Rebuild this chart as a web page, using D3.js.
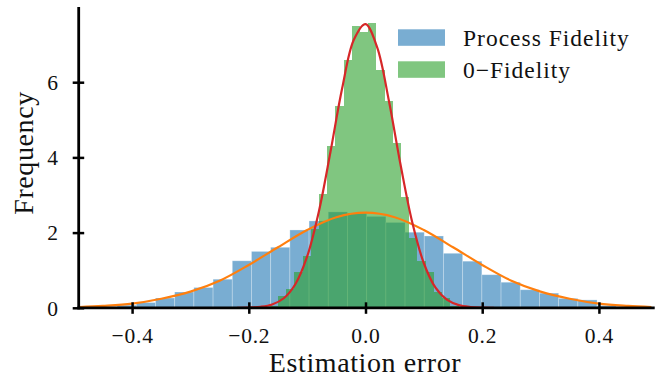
<!doctype html>
<html>
<head>
<meta charset="utf-8">
<title>Estimation error histogram</title>
<script src="https://cdn.jsdelivr.net/npm/d3@7/dist/d3.min.js"></script>
<style>
body { margin: 0; background: #fff; }
svg { display: block; font-family: 'Liberation Serif', serif; }
.tick text { font-family: 'Liberation Serif', serif; font-size: 21.5px; fill: #111; letter-spacing: 0.8px; }
.axis-title { font-size: 28px; fill: #111; letter-spacing: 0.6px; }
.legend text { font-size: 23.5px; fill: #111; letter-spacing: 1px; }
</style>
</head>
<body>
<svg id="chart" width="658" height="379"></svg>
<script>
// ticks
var xTicks = [-0.4, -0.2, 0, 0.2, 0.4];
var xTickLabels = ['\u22120.4', '\u22120.2', '0.0', '0.2', '0.4'];
var yTicks = [0, 2, 4, 6];
var seriesNames = ['Process Fidelity', '0\u2212Fidelity'];

// histogram of process fidelity error (density, 30 bins)
var processStart = -0.4915, processBin = 0.0329;
var processDensity = [0.02, 0.03, 0.07, 0.14, 0.26, 0.42, 0.54, 0.76, 1.25, 1.50,
                      1.61, 2.07, 2.31, 2.55, 2.52, 2.43, 2.27, 2.01, 1.91, 1.45,
                      1.24, 0.88, 0.68, 0.48, 0.39, 0.25, 0.21, 0.06, 0.03, 0.02];

// histogram of 0-fidelity error (density, 30 bins)
var zeroStart = -0.1923, zeroBin = 0.01407;
var zeroDensity = [0.01, 0.01, 0.04, 0.31, 0.49, 0.95, 1.38, 2.10, 3.02, 4.30,
                   5.37, 6.58, 7.50, 7.33, 7.57, 6.33, 5.49, 4.37, 2.94, 1.86,
                   1.24, 0.95, 0.42, 0.27, 0.05, 0.02, 0.01, 0, 0, 0.01];

// fitted curves
var processFitX = [-0.49, -0.45, -0.40, -0.35, -0.30, -0.25, -0.20, -0.15, -0.10, -0.05, 0,
                   0.05, 0.10, 0.15, 0.20, 0.25, 0.30, 0.35, 0.40, 0.45, 0.49];
var processFitY = [0.02, 0.05, 0.11, 0.24, 0.43, 0.72, 1.14, 1.61, 2.07, 2.41, 2.53,
                   2.41, 2.07, 1.61, 1.14, 0.72, 0.43, 0.24, 0.11, 0.05, 0.02];

var zeroFitX = [-0.22, -0.20, -0.18, -0.16, -0.14, -0.12, -0.10, -0.08, -0.06, -0.04, -0.02, 0,
                0.02, 0.04, 0.06, 0.08, 0.10, 0.12, 0.14, 0.16, 0.18, 0.20, 0.22];
var zeroFitY = [0.002, 0.007, 0.027, 0.089, 0.254, 0.633, 1.366, 2.557, 4.149, 5.839, 7.127, 7.545,
                6.927, 5.515, 3.809, 2.281, 1.185, 0.534, 0.209, 0.071, 0.021, 0.005, 0.001];

var svg = d3.select('#chart');

var x = d3.scaleLinear().domain([-0.4915, 0.4956]).range([78.7, 654.7]);
var y = d3.scaleLinear().domain([0, 8]).range([307.8, 7]);

function bins(start, w, vals) {
  return vals.map(function(v, i) { return { x0: start + i * w, x1: start + (i + 1) * w, v: v }; });
}

// process fidelity bars
svg.append('g')
  .selectAll('rect')
  .data(bins(processStart, processBin, processDensity))
  .join('rect')
    .attr('x', function(d) { return x(d.x0); })
    .attr('width', function(d) { return x(d.x1) - x(d.x0); })
    .attr('y', function(d) { return y(d.v); })
    .attr('height', function(d) { return y(0) - y(d.v); })
    .attr('fill', '#1f77b4')
    .attr('fill-opacity', 0.6)
    .attr('stroke', '#fff')
    .attr('stroke-opacity', 0.35)
    .attr('stroke-width', 0.8);

// 0-fidelity bars
svg.append('g')
  .attr('shape-rendering', 'crispEdges')
  .selectAll('rect')
  .data(bins(zeroStart, zeroBin, zeroDensity))
  .join('rect')
    .attr('x', function(d) { return x(d.x0); })
    .attr('width', function(d) { return x(d.x1) - x(d.x0); })
    .attr('y', function(d) { return y(d.v); })
    .attr('height', function(d) { return y(0) - y(d.v); })
    .attr('fill', '#2ca02c')
    .attr('fill-opacity', 0.6);

var line = d3.line()
  .x(function(d) { return x(d[0]); })
  .y(function(d) { return y(d[1]); })
  .curve(d3.curveCatmullRom.alpha(0.5));

svg.append('path')
  .datum(d3.zip(processFitX, processFitY))
  .attr('d', line)
  .attr('fill', 'none')
  .attr('stroke', '#ff7f0e')
  .attr('stroke-width', 2.2);

svg.append('path')
  .datum(d3.zip(zeroFitX, zeroFitY))
  .attr('d', line)
  .attr('fill', 'none')
  .attr('stroke', '#d62728')
  .attr('stroke-width', 2.2);

// axes (ticks go both in and out like matplotlib 'inout')
var xAxis = svg.append('g')
  .attr('transform', 'translate(0,' + y(0) + ')')
  .call(d3.axisBottom(x).tickValues(xTicks)
    .tickFormat(function(d, i) { return xTickLabels[i]; })
    .tickSizeOuter(0).tickPadding(14));
xAxis.attr('font-family', null).attr('font-size', null);
xAxis.select('.domain').attr('stroke', '#000').attr('stroke-width', 2.8)
  .attr('d', 'M' + (x.range()[0] - 1.4) + ',0H' + x.range()[1]);
xAxis.selectAll('.tick line').attr('y1', -5.5).attr('y2', 6).attr('stroke-width', 2.5);

var yAxis = svg.append('g')
  .attr('transform', 'translate(' + x.range()[0] + ',0)')
  .call(d3.axisLeft(y).tickValues(yTicks).tickFormat(d3.format('d'))
    .tickSizeOuter(0).tickPadding(14));
yAxis.attr('font-family', null).attr('font-size', null);
yAxis.select('.domain').attr('stroke', '#000').attr('stroke-width', 2.8)
  .attr('d', 'M0,' + y.range()[1] + 'V' + (y(0) + 1.4));
yAxis.selectAll('.tick line').attr('x1', -6).attr('x2', 5.5).attr('stroke-width', 2.5);
yAxis.selectAll('.tick text').attr('dy', '0.34em');

svg.append('text')
  .attr('class', 'axis-title')
  .attr('x', 365)
  .attr('y', 372)
  .attr('text-anchor', 'middle')
  .text('Estimation error');

svg.append('text')
  .attr('class', 'axis-title')
  .attr('transform', 'translate(33,153) rotate(-90)')
  .attr('text-anchor', 'middle')
  .text('Frequency');

// legend
var legend = svg.append('g').attr('class', 'legend');
var legendColors = ['#1f77b4', '#2ca02c'];
var items = legend.selectAll('g')
  .data(seriesNames)
  .join('g')
    .attr('transform', function(d, i) { return 'translate(398,' + (29.3 + i * 32) + ')'; });
items.append('rect')
  .attr('width', 47).attr('height', 16.5)
  .attr('fill', function(d, i) { return legendColors[i]; })
  .attr('fill-opacity', 0.6);
items.append('text')
  .attr('x', 65).attr('y', 16.3)
  .text(function(d) { return d; });
</script>
</body>
</html>
